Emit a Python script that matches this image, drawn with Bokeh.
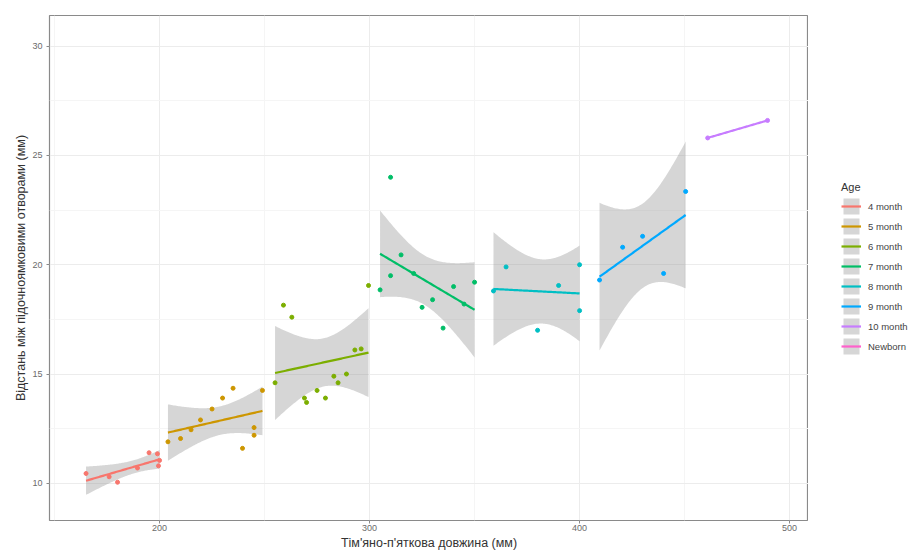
import numpy as np
from bokeh.plotting import figure
from bokeh.layouts import row
from bokeh.models import Range1d, Legend, LegendItem, ColumnDataSource, FixedTicker
from bokeh.embed import file_html
from bokeh.resources import INLINE

ages = ["4 month", "5 month", "6 month", "7 month", "8 month", "9 month", "10 month", "Newborn"]
colors = ["#F8766D", "#CD9600", "#7CAE00", "#00BE67", "#00BFC4", "#00A9FF", "#C77CFF", "#FF61CC"]

x4 = [165, 176, 180, 189.5, 195, 199, 199.5, 200]
y4 = [10.45, 10.3, 10.05, 10.7, 11.4, 11.35, 10.8, 11.05]
x5 = [204, 210, 215, 219.5, 225, 230, 235, 239.5, 245, 245, 249]
y5 = [11.9, 12.05, 12.45, 12.9, 13.4, 13.9, 14.35, 11.6, 12.55, 12.2, 14.25]
x6 = [255, 259, 263, 269, 270, 275, 279, 283, 285, 289, 293, 296, 299.5]
y6 = [14.6, 18.15, 17.6, 13.9, 13.7, 14.25, 13.9, 14.9, 14.6, 15.0, 16.1, 16.15, 19.05]
x7 = [305, 310, 310, 315, 321, 325, 330, 335, 340, 345, 350]
y7 = [18.85, 24.0, 19.5, 20.45, 19.6, 18.05, 18.4, 17.1, 19.0, 18.2, 19.2]
x8 = [359, 365, 380, 390, 400, 400]
y8 = [18.8, 19.9, 17.0, 19.05, 20.0, 17.9]
x9 = [409.5, 420.5, 430, 440, 450.5]
y9 = [19.3, 20.8, 21.3, 19.6, 23.35]
x10 = [461, 489.5]
y10 = [25.8, 26.6]
xn = []
yn = []

groups = [(x4, y4), (x5, y5), (x6, y6), (x7, y7), (x8, y8), (x9, y9), (x10, y10), (xn, yn)]

t975 = {1: 12.706, 2: 4.303, 3: 3.182, 4: 2.776, 5: 2.571, 6: 2.447, 7: 2.365, 8: 2.306,
        9: 2.262, 10: 2.228, 11: 2.201, 12: 2.179, 13: 2.160, 14: 2.145, 15: 2.131}

RIBBON = "#999999"

p = figure(frame_width=759, frame_height=505, output_backend="svg", toolbar_location=None,
           x_range=Range1d(147.6, 509), y_range=Range1d(8.3, 31.4),
           min_border_left=49, min_border_top=15, min_border_bottom=34, min_border_right=0)

p.background_fill_color = "white"
p.border_fill_color = "white"
p.outline_line_color = "#8a8a8a"
p.outline_line_width = 1.2

for ax in (p.xaxis[0], p.yaxis[0]):
    ax.axis_line_color = None
    ax.major_tick_line_color = "#8a8a8a"
    ax.minor_tick_line_color = None
    ax.major_tick_out = 3
    ax.major_tick_in = 0
    ax.major_label_text_font = "Liberation Sans"
    ax.major_label_text_font_size = "9px"
    ax.major_label_text_color = "#6b6b6b"
    ax.axis_label_text_font = "Liberation Sans"
    ax.axis_label_text_font_size = "12.5px"
    ax.axis_label_text_font_style = "normal"
    ax.axis_label_text_color = "#333333"

p.xaxis.ticker = FixedTicker(ticks=[200, 300, 400, 500], minor_ticks=[150, 250, 350, 450])
p.yaxis.ticker = FixedTicker(ticks=[10, 15, 20, 25, 30], minor_ticks=[12.5, 17.5, 22.5, 27.5])
p.xaxis.axis_label = "Тім'яно-п'яткова довжина (мм)"
p.yaxis.axis_label = "Відстань між підочноямковими отворами (мм)"
p.xaxis.major_label_standoff = 0
p.xaxis.axis_label_standoff = 2
p.yaxis.major_label_standoff = 3
p.yaxis.axis_label_standoff = 1

p.xgrid.grid_line_color = "#ececec"
p.ygrid.grid_line_color = "#ececec"
p.xgrid.minor_grid_line_color = "#f5f5f5"
p.ygrid.minor_grid_line_color = "#f5f5f5"

# legend figure
lf = figure(width=107, height=554, output_backend="svg", toolbar_location=None,
            x_range=Range1d(0, 1), y_range=Range1d(0, 1),
            x_axis_type=None, y_axis_type=None,
            min_border_left=0, min_border_right=0, min_border_top=0, min_border_bottom=0)
lf.outline_line_color = None
lf.grid.visible = False
lf.background_fill_color = "white"
lf.border_fill_color = "white"

items = []
for (gx, gy), name, col in zip(groups, ages, colors):
    gx = np.array(gx, dtype=float)
    gy = np.array(gy, dtype=float)
    n = len(gx)
    if n >= 3:
        b, a = np.polyfit(gx, gy, 1)
        xs = np.linspace(gx.min(), gx.max(), 80)
        fit = a + b * xs
        resid = gy - (a + b * gx)
        s = np.sqrt((resid ** 2).sum() / (n - 2))
        sxx = ((gx - gx.mean()) ** 2).sum()
        se = s * np.sqrt(1.0 / n + (xs - gx.mean()) ** 2 / sxx)
        tq = t975[n - 2]
        src = ColumnDataSource(dict(x=xs, fit=fit, lo=fit - tq * se, hi=fit + tq * se))
        p.varea(x="x", y1="lo", y2="hi", source=src, fill_color=RIBBON, fill_alpha=0.4)
        p.line(x="x", y="fit", source=src, line_color=col, line_width=2.2)
    elif n == 2:
        b, a = np.polyfit(gx, gy, 1)
        xs = np.linspace(gx.min(), gx.max(), 80)
        src = ColumnDataSource(dict(x=xs, fit=a + b * xs))
        p.line(x="x", y="fit", source=src, line_color=col, line_width=2.2)
    if n >= 1:
        p.scatter(x=gx, y=gy, size=4, fill_color=col, line_color=col)

    esrc = ColumnDataSource(dict(x=[np.nan], y=[np.nan], lo=[np.nan], hi=[np.nan]))
    r1 = lf.varea(x="x", y1="lo", y2="hi", source=esrc, fill_color=RIBBON, fill_alpha=0.4)
    r2 = lf.line(x="x", y="y", source=esrc, line_color=col, line_width=2.2)
    items.append(LegendItem(label=name, renderers=[r1, r2]))

legend = Legend(items=items, title="Age", location=(33, 164))
legend.title_text_font = "Liberation Sans"
legend.title_text_font_size = "11px"
legend.title_text_color = "#333333"
legend.title_text_font_style = "normal"
legend.title_standoff = 3
legend.label_text_font = "Liberation Sans"
legend.label_text_font_size = "9.5px"
legend.label_text_color = "#444444"
legend.glyph_width = 20
legend.glyph_height = 20
legend.label_height = 20
legend.spacing = 0
legend.padding = 5
legend.margin = 0
legend.border_line_color = None
legend.background_fill_alpha = 0
legend.label_standoff = 7
lf.add_layout(legend, "center")

layout = row(p, lf, spacing=0)
open("out.html", "w").write(file_html(layout, INLINE))
